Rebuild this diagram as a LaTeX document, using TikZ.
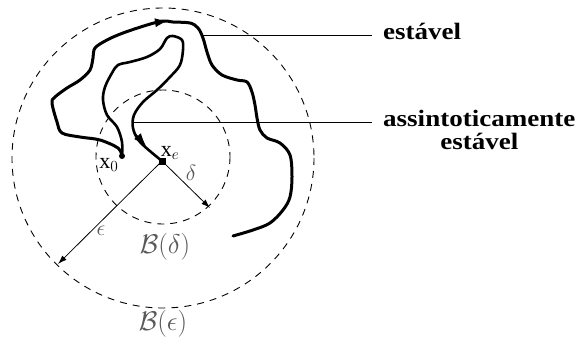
\RequirePackage{fix-cm}
\documentclass[tikz,border=0pt]{standalone}
\usepackage{fontspec}
\setmainfont{Liberation Serif}
\newfontfamily\lblfont[FakeStretch=1.15]{Liberation Serif}
\usetikzlibrary{arrows.meta}
\begin{document}
\begin{tikzpicture}[x=1pt,y=-1pt,
  traj/.style={line width=3pt,line cap=round,line join=round},
  trajb/.style={line width=2.6pt,line cap=round,line join=round},
  dcirc/.style={line width=0.9pt,dash pattern=on 7pt off 6pt},
  leader/.style={line width=0.9pt},
  radarrow/.style={line width=0.8pt,-{Latex[length=9pt,width=6pt]}},
  midarrow/.style={-{Latex[length=13pt,width=9pt]},line width=1pt},
  lab/.style={font=\lblfont\bfseries\fontsize{23.5}{19}\selectfont, inner sep=0pt},
  mlab/.style={text=black!65, inner sep=0pt, font=\fontsize{27}{30}\selectfont},
  slab/.style={text=black!65, inner sep=0pt, font=\fontsize{22}{24}\selectfont},
  xlab/.style={inner sep=0pt, font=\fontsize{22}{24}\selectfont},
]
\useasboundingbox (0,0) rectangle (578,345);
\fill[white] (0,0) rectangle (578,345);

% dashed balls
\draw[dcirc] (163,158) circle [x radius=151, y radius=150];
\draw[dcirc] (163,157) circle [radius=67];

% points
\node[fill, circle, inner sep=0pt, minimum size=6pt] (x0) at (122,156) {};
\node[fill, rectangle, inner sep=0pt, minimum size=7pt] (xe) at (162,161) {};

% stable trajectory
\draw[traj] plot[smooth, tension=0.55] coordinates {
 (122,156) (118,148) (100,140) (80,137) (62,133) (57,122) (52,103) (55,97)
 (67,88) (80,80) (90,70) (93,58) (95,48) (107,40) (123,33) (147,25) (163,21)
 (173,22) (190,23) (198,28) (203,38) (207,52) (212,65) (222,75) (237,80)
 (247,82) (252,92) (255,105) (257,118) (260,130) (267,138) (280,143)
 (290,155) (292,177) (290,197) (283,210) (270,223) (253,230) (233,236)};
\draw[midarrow] (150,23.5) -- (168,20.8);

% asymptotically stable trajectory
\draw[trajb] plot[smooth, tension=0.55] coordinates {
 (122,156) (122,142) (117,127) (107,115) (103,100) (105,87) (112,73)
 (118,65) (130,62) (147,57) (160,49) (167,38) (173,36) (182,40) (183,50)
 (180,65) (170,77) (157,90) (143,102) (134,115) (133,128) (140,142) (162,161)};
\draw[midarrow] (133,131) -- (146,146);

% radii
\coordinate (dtip) at (210,208);
\coordinate (etip) at (58,264);
\draw[radarrow] (xe.center) -- (dtip);
\draw[radarrow] (xe.center) -- (etip);

% labels
\node[lab, anchor=base west] (st) at (383,40) {estável};
\node[lab, anchor=base west] (as1) at (383,126) {assintoticamente};
\node[lab, anchor=base] (as2) at ([yshift=-23pt]as1.base) {estável};

\coordinate (c1) at (203,35);
\coordinate (c2) at (133,122);
\draw[leader] (c1) -- ([xshift=-11pt]c1 -| st.west);
\draw[leader] (c2) -- ([xshift=-11pt]c2 -| as1.west);

\node[mlab] (bd) at (165,247) {$\mathcal{B}(\delta)$};
\node[mlab] (be) at (163,324) {$\mathcal{B}(\epsilon)$};
\node[slab] (dl) at (191,173) {$\delta$};
\node[slab] (el) at (101,231) {$\epsilon$};
\node[xlab] (x0l) at (109,165) {$\mathrm{x}_0$};
\node[xlab] (xel) at (170,153) {$\mathrm{x}_e$};
\end{tikzpicture}
\end{document}
